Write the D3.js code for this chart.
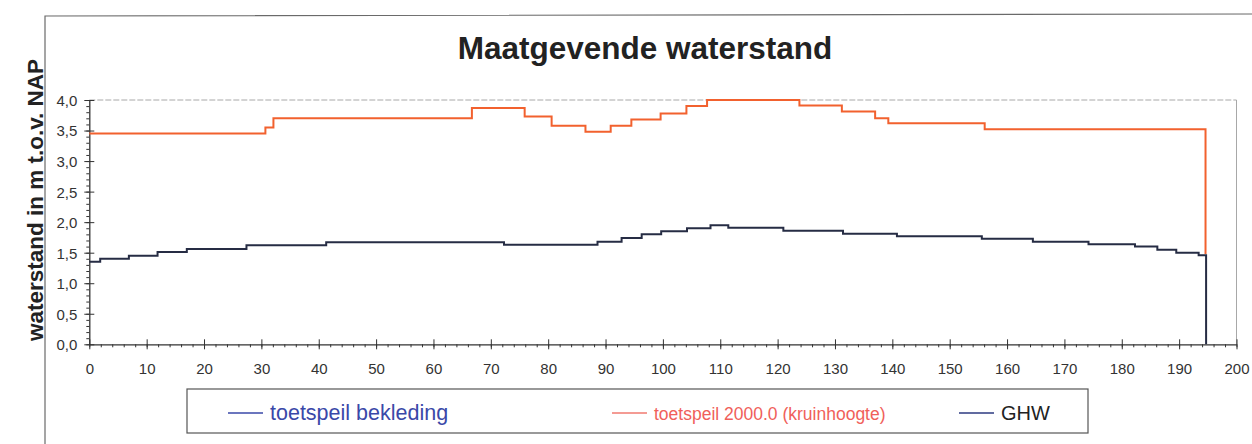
<!DOCTYPE html>
<html>
<head>
<meta charset="utf-8">
<script src="https://cdn.jsdelivr.net/npm/d3@7"></script>
<style>
  body { margin: 0; background: #fff; }
  text { font-family: Arial, "Liberation Sans", sans-serif; }
</style>
</head>
<body>
<svg id="chart" width="1252" height="444"></svg>
<script>
// step positions (km) and levels (m t.o.v. NAP)
var kruinX = [0, 30.7, 32.1, 66.7, 75.9, 80.6, 86.5, 90.9, 94.5, 99.6, 104.1, 107.7, 123.8, 131.2, 137.0, 139.3, 156.1, 194.6];
var kruinY = [3.45, 3.55, 3.70, 3.87, 3.73, 3.58, 3.48, 3.58, 3.68, 3.78, 3.90, 4.00, 3.91, 3.81, 3.70, 3.62, 3.52, 1.48];

var ghwX = [0, 1.9, 6.9, 11.9, 17.0, 27.4, 41.3, 72.3, 88.6, 92.8, 96.3, 99.7, 104.2, 108.3, 111.4, 121.0, 131.4, 140.8, 155.6, 164.5, 174.2, 182.3, 186.2, 189.5, 193.4, 194.7];
var ghwY = [1.35, 1.40, 1.45, 1.51, 1.56, 1.62, 1.67, 1.63, 1.68, 1.74, 1.80, 1.85, 1.90, 1.95, 1.91, 1.86, 1.81, 1.77, 1.73, 1.68, 1.64, 1.60, 1.55, 1.50, 1.46, 0];

// toetspeil bekleding has no visible trace in the plot
var beklX = [];
var beklY = [];

var xTicks = d3.range(0, 201, 10);
var yTicks = d3.range(0, 4.01, 0.5);

var legendItems = [
  { name: 'toetspeil bekleding', color: '#3a48a8', text: '#3a48a8', size: 21.5 },
  { name: 'toetspeil 2000.0 (kruinhoogte)', color: '#f07a70', text: '#f0605a', size: 17.5 },
  { name: 'GHW', color: '#2d3a80', text: '#222', size: 20 }
];

var svg = d3.select('#chart');

var x = d3.scaleLinear().domain([0, 200]).range([89.3, 1236.5]);
var y = d3.scaleLinear().domain([0, 4]).range([344.3, 100]);

// outer chart frame (left and top visible)
svg.append('path')
  .attr('d', 'M45,444 L45,16 L1252,14')
  .attr('fill', 'none')
  .attr('stroke', '#6a6a6a')
  .attr('stroke-width', 1.2);

// plot area: gridline at top and border on the right
svg.append('line')
  .attr('x1', x(0)).attr('x2', x(200))
  .attr('y1', y(4)).attr('y2', y(4))
  .attr('stroke', '#a8a8a8')
  .attr('stroke-dasharray', '6,2');
svg.append('line')
  .attr('x1', x(200)).attr('x2', x(200))
  .attr('y1', y(4)).attr('y2', y(0))
  .attr('stroke', '#a8a8a8');

svg.append('text')
  .attr('x', 645).attr('y', 59)
  .attr('text-anchor', 'middle')
  .attr('font-size', 31.5)
  .attr('font-weight', 'bold')
  .attr('fill', '#222')
  .text('Maatgevende waterstand');

svg.append('text')
  .attr('transform', 'translate(43,' + 200 + ') rotate(-90)')
  .attr('text-anchor', 'middle')
  .attr('font-size', 22.5)
  .attr('font-weight', 'bold')
  .attr('fill', '#222')
  .text('waterstand in m t.o.v. NAP');

// minor ticks
svg.append('g')
  .attr('transform', 'translate(0,' + y(0) + ')')
  .call(d3.axisBottom(x).tickValues(d3.range(0, 201, 2)).tickSize(3).tickFormat(''))
  .call(function(g) { g.select('.domain').remove(); });
svg.append('g')
  .attr('transform', 'translate(' + x(0) + ',0)')
  .call(d3.axisLeft(y).tickValues(d3.range(0, 4.01, 0.1)).tickSize(3).tickFormat(''))
  .call(function(g) { g.select('.domain').remove(); });

// major axes
var xAxis = svg.append('g')
  .attr('transform', 'translate(0,' + y(0) + ')')
  .call(d3.axisBottom(x).tickValues(xTicks).tickSize(5).tickPadding(14).tickSizeOuter(0));
xAxis.selectAll('.tick line').attr('y1', -5);

var yAxis = svg.append('g')
  .attr('transform', 'translate(' + x(0) + ',0)')
  .call(d3.axisLeft(y).tickValues(yTicks).tickSize(5).tickPadding(7).tickSizeOuter(0)
    .tickFormat(function(d) { return d3.format('.1f')(d).replace('.', ','); }));
yAxis.selectAll('.tick line').attr('x1', 5);

svg.selectAll('.domain').attr('stroke', '#333').attr('stroke-width', 1.3);
svg.selectAll('.tick line').attr('stroke', '#333');
svg.selectAll('.tick text')
  .attr('font-size', 15)
  .attr('fill', '#333')
  .attr('font-family', 'Arial, "Liberation Sans", sans-serif');
yAxis.selectAll('.tick text').attr('dy', '0.36em');

// series as step lines
var line = d3.line()
  .x(function(d) { return x(d[0]); })
  .y(function(d) { return y(d[1]); })
  .curve(d3.curveStepAfter);

function drawSeries(xs, ys, color, width) {
  if (!xs.length) return;
  svg.append('path')
    .datum(d3.zip(xs, ys))
    .attr('d', line)
    .attr('fill', 'none')
    .attr('stroke', color)
    .attr('stroke-width', width);
}

drawSeries(beklX, beklY, legendItems[0].color, 2);
drawSeries(kruinX, kruinY, '#f2612e', 2);
drawSeries(ghwX, ghwY, '#262c44', 2);

// legend
var legend = svg.append('g');
legend.append('rect')
  .attr('x', 187).attr('y', 389)
  .attr('width', 901).attr('height', 44)
  .attr('fill', '#fff')
  .attr('stroke', '#555')
  .attr('stroke-width', 1.2);

var legendX = [228, 612, 959];
var items = legend.selectAll('g.item')
  .data(legendItems)
  .enter()
  .append('g')
  .attr('class', 'item')
  .attr('transform', function(d, i) { return 'translate(' + legendX[i] + ',0)'; });

items.append('line')
  .attr('x1', 0).attr('x2', 35)
  .attr('y1', 413).attr('y2', 413)
  .attr('stroke', function(d) { return d.color; })
  .attr('stroke-width', 1.5);

items.append('text')
  .attr('x', 42).attr('y', 420)
  .attr('font-size', function(d) { return d.size; })
  .attr('fill', function(d) { return d.text; })
  .text(function(d) { return d.name; });
</script>
</body>
</html>
